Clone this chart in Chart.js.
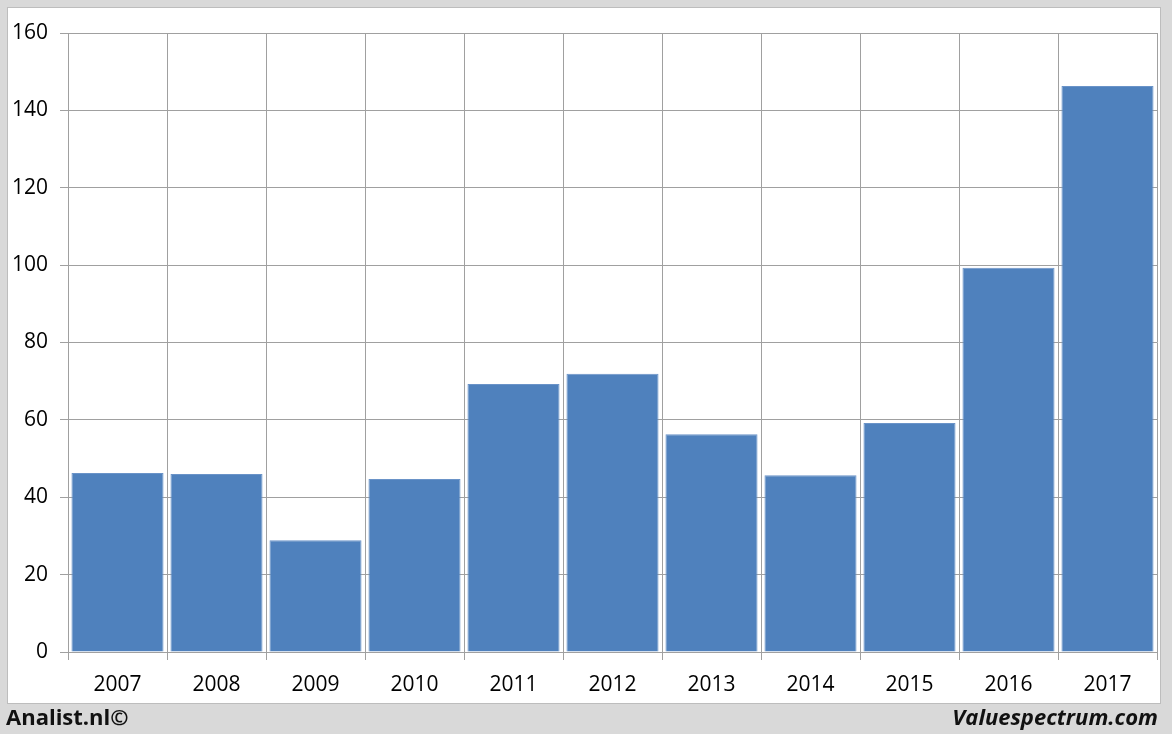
<!DOCTYPE html>
<html>
<head>
<meta charset="utf-8">
<script src="https://cdn.jsdelivr.net/npm/chart.js@4"></script>
<style>
  html, body { margin: 0; padding: 0; }
  body { width: 1172px; height: 734px; background: #d9d9d9; position: relative; overflow: hidden; font-family: "Open Sans", sans-serif; }
  .panel { position: absolute; left: 7px; top: 7px; width: 1152px; height: 695px; background: #fff; border: 1px solid #bdbdbd; }
  #wrap { position: absolute; left: 0; top: 0; width: 1172px; height: 734px; }
  .foot { position: absolute; bottom: 3px; font-size: 22px; font-weight: bold; color: #111; }
  .left { left: 6px; }
  .right { right: 14px; font-style: italic; }
</style>
</head>
<body>
<div class="panel"></div>
<div id="wrap"><canvas id="barChart" width="1172" height="734"></canvas></div>
<div class="foot left">Analist.nl©</div>
<div class="foot right">Valuespectrum.com</div>
<script>
const years = ['2007', '2008', '2009', '2010', '2011', '2012', '2013', '2014', '2015', '2016', '2017'];
const values = [46.3, 46.0, 28.9, 44.7, 69.3, 71.9, 56.3, 45.7, 59.2, 99.3, 146.3];
const yTicks = [0, 20, 40, 60, 80, 100, 120, 140, 160];

const ctx = document.getElementById('barChart').getContext('2d');
new Chart(ctx, {
    type: 'bar',
    data: {
        labels: years,
        datasets: [{
            data: values,
            backgroundColor: '#4f81bd',
            borderColor: '#6a93c8',
            borderWidth: 1,
            barPercentage: 0.93,
            categoryPercentage: 1.0
        }]
    },
    options: {
        responsive: false,
        animation: false,
        layout: { padding: { left: 0, right: 15, top: 33, bottom: 34 } },
        plugins: {
            legend: { display: false },
            tooltip: { enabled: false }
        },
        scales: {
            x: {
                offset: true,
                grid: { offset: true, color: '#a0a0a0', lineWidth: 1, tickLength: 8 },
                border: { color: '#a0a0a0' },
                ticks: { color: '#000', font: { family: 'Open Sans', size: 21 }, padding: 12 },
                afterFit: function (scale) { scale.height = 48; }
            },
            y: {
                min: 0,
                max: 160,
                afterBuildTicks: function (scale) {
                    scale.ticks = yTicks.map(v => ({ value: v }));
                },
                grid: { color: '#a0a0a0', lineWidth: 1, tickLength: 8 },
                border: { color: '#a0a0a0' },
                ticks: { color: '#000', font: { family: 'Open Sans', size: 21 }, padding: 12 },
                afterFit: function (scale) { scale.width = 68; }
            }
        }
    }
});
</script>
</body>
</html>
